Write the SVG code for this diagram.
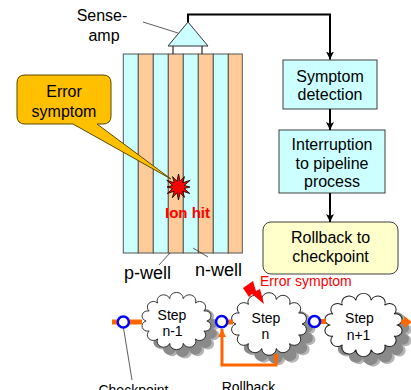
<svg xmlns="http://www.w3.org/2000/svg" xmlns:xlink="http://www.w3.org/1999/xlink" width="411" height="390" viewBox="0 0 411 390">
  <style>
    text { font-family: "Liberation Sans", Arial, sans-serif; fill: #000; }
    .lbl16 { font-size: 16px; text-anchor: middle; }
    .lbl18 { font-size: 18px; }
    .lbl14 { font-size: 14px; text-anchor: middle; }
    .red { fill: #FF0000; }
    .box-cyan { fill: #CCFFFF; stroke: #404040; stroke-width: 1; }
    .box-yellow { fill: #FFFFCC; stroke: #404040; stroke-width: 1; }
    .stripe-c { fill: #CCFFFF; stroke: #555; stroke-width: 1; }
    .stripe-o { fill: #FFCC99; stroke: #555; stroke-width: 1; }
    .leader { stroke: #333; stroke-width: 0.8; fill: none; }
    .flow { stroke: #000; stroke-width: 2; fill: none; }
    .pipe { stroke: #FF6600; stroke-width: 5; fill: none; }
    .ckpt { fill: #fff; stroke: #0000FF; stroke-width: 2.5; }
    .cloud { fill: #fff; stroke: #222; stroke-width: 1; }
    .shadow-dark { fill: #8a8a8a; }
    .shadow-soft { fill: #b5b5b5; }
  </style>
  <defs>
    <!-- cloud outline centred on the origin, semicircular puffs -->
    <path id="cloudShape" d="M33,0 A1,1 0 0 1 29.73,11.71 A1,1 0 0 1 20.58,21.11 A1,1 0 0 1 7.34,26.32 A1,1 0 0 1 -7.34,26.32 A1,1 0 0 1 -20.58,21.11 A1,1 0 0 1 -29.73,11.71 A1,1 0 0 1 -33,0 A1,1 0 0 1 -29.73,-11.71 A1,1 0 0 1 -20.58,-21.11 A1,1 0 0 1 -7.34,-26.32 A1,1 0 0 1 7.34,-26.32 A1,1 0 0 1 20.58,-21.11 A1,1 0 0 1 29.73,-11.71 A1,1 0 0 1 33,0 Z"/>
    <marker id="arrowBlack" viewBox="0 0 10 10" refX="10" refY="5" markerWidth="8" markerHeight="9" orient="auto" markerUnits="userSpaceOnUse">
      <path d="M0,0 L10,5 L0,10 L2.5,5 Z" fill="#000"/>
    </marker>
    <marker id="arrowOrange" viewBox="0 0 10 10" refX="10" refY="5" markerWidth="8" markerHeight="8" orient="auto" markerUnits="userSpaceOnUse">
      <path d="M0,0 L10,5 L0,10 Z" fill="#FF6600"/>
    </marker>
  </defs>

  <!-- memory array: alternating wells -->
  <g id="well-array">
    <rect class="stripe-c" x="123.3" y="54" width="15" height="199"/>
    <rect class="stripe-o" x="138.3" y="54" width="15" height="199"/>
    <rect class="stripe-c" x="153.3" y="54" width="15" height="199"/>
    <rect class="stripe-o" x="168.3" y="54" width="15" height="199"/>
    <rect class="stripe-c" x="183.3" y="54" width="15" height="199"/>
    <rect class="stripe-o" x="198.3" y="54" width="15" height="199"/>
    <rect class="stripe-c" x="213.3" y="54" width="15" height="199"/>
    <rect class="stripe-o" x="228.3" y="54" width="14" height="199"/>
  </g>

  <!-- sense amplifier -->
  <g id="sense-amp">
    <line x1="173" y1="46" x2="173" y2="54" stroke="#000" stroke-width="1"/>
    <line x1="202" y1="46" x2="202" y2="54" stroke="#000" stroke-width="1"/>
    <polygon points="188,22 168,46 208,46" fill="#CCFFFF" stroke="#333" stroke-width="1"/>
    <text class="lbl16" x="102" y="21">Sense-</text>
    <text class="lbl16" x="104" y="41">amp</text>
    <line class="leader" x1="143" y1="22" x2="178" y2="33"/>
  </g>

  <!-- callout -->
  <g id="error-callout">
    <path d="M25,75 H103 Q111,75 111,83 V116 Q111,124 103,124 H97 L171,179 L73,124 H25 Q17,124 17,116 V83 Q17,75 25,75 Z" fill="#FFC000" stroke="#5a4800" stroke-width="1"/>
    <text class="lbl16" x="64" y="97">Error</text>
    <text class="lbl16" x="64" y="116.5">symptom</text>
  </g>

  <!-- particle strike -->
  <g id="ion-hit">
    <polygon points="178.5,174 180.05,181.2 184.5,176.6 182.74,182.76 190.19,180.25 184.3,185.45 190,187 184.3,188.55 189.76,193.5 182.74,191.24 184.5,197.39 180.05,192.8 178.5,200 176.95,192.8 172.25,197.83 174.26,191.24 167.24,193.5 172.7,188.55 167,187 172.7,185.45 166.81,180.25 174.26,182.76 172.5,176.6 176.95,181.2" fill="#FF0000" stroke="#000" stroke-width="0.8"/>
    <text class="red" x="187.5" y="218" font-size="15" font-weight="bold" text-anchor="middle">Ion hit</text>
  </g>

  <!-- well labels -->
  <g id="well-labels">
    <text class="lbl18" x="124" y="279">p-well</text>
    <text class="lbl18" x="195" y="276">n-well</text>
    <line class="leader" x1="159" y1="265" x2="170" y2="253"/>
    <line class="leader" x1="193" y1="248" x2="208" y2="257"/>
  </g>

  <!-- recovery flow -->
  <g id="symptom-detection">
    <rect class="box-cyan" x="283" y="60" width="94" height="49"/>
    <text class="lbl16" x="330" y="82">Symptom</text>
    <text class="lbl16" x="330" y="100">detection</text>
  </g>
  <g id="pipeline-interruption">
    <rect class="box-cyan" x="279" y="130" width="106" height="63"/>
    <text class="lbl16" x="332" y="150">Interruption</text>
    <text class="lbl16" x="332" y="168.5">to pipeline</text>
    <text class="lbl16" x="332" y="187">process</text>
  </g>
  <g id="rollback">
    <rect class="box-yellow" x="263" y="222" width="135" height="52" rx="8" ry="8"/>
    <text class="lbl16" x="330.5" y="243">Rollback to</text>
    <text class="lbl16" x="330.5" y="262">checkpoint</text>
  </g>

  <!-- pipeline steps -->
  <g id="step-n-minus-1">
    <use xlink:href="#cloudShape" class="shadow-soft" transform="translate(185,330) scale(0.92,0.85)"/>
    <use xlink:href="#cloudShape" class="shadow-dark" transform="translate(182.5,328.5) scale(0.92,0.85)"/>
    <use xlink:href="#cloudShape" class="cloud" transform="translate(176.5,321) scale(0.92,0.85)" vector-effect="non-scaling-stroke"/>
    <text class="lbl14" x="172" y="320">Step</text>
    <text class="lbl14" x="172.5" y="336">n-1</text>
  </g>
  <g id="step-n">
    <use xlink:href="#cloudShape" class="shadow-soft" transform="translate(278,334) scale(1,0.93)"/>
    <use xlink:href="#cloudShape" class="shadow-dark" transform="translate(275.5,332.5) scale(1,0.93)"/>
    <use xlink:href="#cloudShape" class="cloud" transform="translate(269,324) scale(1,0.93)"/>
    <text class="lbl14" x="266" y="322.5">Step</text>
    <text class="lbl14" x="265.5" y="338.5">n</text>
  </g>
  <g id="step-n-plus-1">
    <use xlink:href="#cloudShape" class="shadow-soft" transform="translate(373,335) scale(1.03,0.94)"/>
    <use xlink:href="#cloudShape" class="shadow-dark" transform="translate(370.5,333.5) scale(1.03,0.94)"/>
    <use xlink:href="#cloudShape" class="cloud" transform="translate(363.5,325) scale(1.03,0.94)"/>
    <text class="lbl14" x="359.5" y="322.5">Step</text>
    <text class="lbl14" x="358.5" y="339.5">n+1</text>
  </g>

  <!-- soft-error marker on step n -->
  <g id="error-symptom">
    <polygon points="243,288 253,281 256,291 260,289 264,304 252,294 249,297" fill="#FF0000"/>
    <text class="red" x="260" y="286" font-size="14">Error symptom</text>
  </g>

  <!-- connectors -->
  <g id="connectors">
    <path class="flow" d="M188,22 V14.5 H330 V59.5" marker-end="url(#arrowBlack)"/>
    <line class="flow" x1="330" y1="109" x2="330" y2="130" marker-end="url(#arrowBlack)"/>
    <line class="flow" x1="330" y1="193" x2="330" y2="222" marker-end="url(#arrowBlack)"/>

    <line class="pipe" x1="112" y1="322" x2="142" y2="322"/>
    <line class="pipe" x1="222" y1="322" x2="233" y2="322"/>
    <line class="pipe" x1="314" y1="321.5" x2="326" y2="321.5"/>
    <line class="pipe" x1="401" y1="322" x2="405" y2="322"/>
    <polygon points="404,316 412,322 404,328" fill="#FF6600"/>

    <path d="M276,355 V365 H222 V329" stroke="#FF6600" stroke-width="3" fill="none" marker-end="url(#arrowOrange)"/>
    <rect x="274" y="354" width="4" height="6" fill="#FF6600"/>

    <line class="leader" x1="123.5" y1="328" x2="132" y2="380"/>
  </g>

  <!-- checkpoints -->
  <g id="checkpoints">
    <circle class="ckpt" cx="123.3" cy="322" r="5.6"/>
    <circle class="ckpt" cx="221.7" cy="321.7" r="5.6"/>
    <circle class="ckpt" cx="314.5" cy="321.5" r="5.6"/>
    <text class="lbl14" x="133.5" y="395">Checkpoint</text>
    <text class="lbl14" x="248.5" y="392">Rollback</text>
  </g>
</svg>
